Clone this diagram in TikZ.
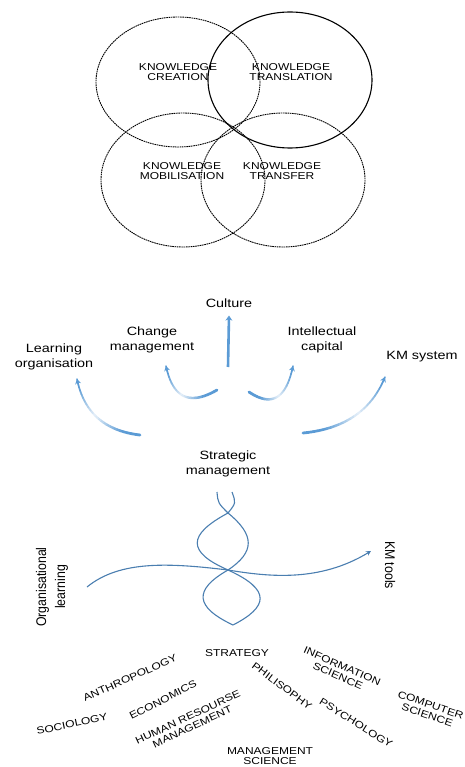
\documentclass[tikz,border=0pt]{standalone}
\usepackage{fontspec}
\setmainfont{Liberation Sans}
\newfontfamily\widefont[FakeStretch=1.2]{Liberation Sans}
\newfontfamily\narrowfont[FakeStretch=0.88]{Liberation Sans}
\usepackage{tikz}
\usetikzlibrary{arrows.meta,calc,positioning}
\definecolor{arrowblue}{RGB}{91,155,213}
\definecolor{helixblue}{RGB}{74,126,176}
\tikzset{
  kmtext/.style={font=\widefont\fontsize{10}{10.5}\selectfont, align=center, inner sep=0pt},
  mgmttext/.style={font=\widefont\fontsize{12}{15}\selectfont, align=center, inner sep=0pt},
  sidetext/.style={font=\narrowfont\fontsize{14}{19}\selectfont, align=center, inner sep=0pt},
  kring/.style={line width=0.9pt, dash pattern=on 1.6pt off 0.7pt},
  helix/.style={helixblue, line width=1.1pt},
}
% faded curved arrow: start, control, end
\newcommand{\fadearc}[3]{%
  \foreach \i in {0,...,23}{%
    \pgfmathsetmacro\tA{\i/24}%
    \pgfmathsetmacro\tB{(\i+1)/24}%
    \pgfmathsetmacro\fademix{min(100,15+abs((\tA+\tB)/2-0.55)*230)}%
    \pgfmathsetmacro\arcw{2.8-1.3*\tA}%
    \draw[arrowblue!\fademix!white, line width=\arcw pt, line cap=round]
      ($($(#1)!\tA!(#2)$)!\tA!($(#2)!\tA!(#3)$)$) --
      ($($(#1)!\tB!(#2)$)!\tB!($(#2)!\tB!(#3)$)$);
  }%
  \draw[arrowblue, line width=1.3pt, -{Stealth[length=5pt,width=6pt]}]
    ($($(#1)!0.93!(#2)$)!0.93!($(#2)!0.93!(#3)$)$) -- (#3);
}

\begin{document}
\begin{tikzpicture}[x=1pt,y=-1pt]
    \useasboundingbox (0,0) rectangle (464,767);

    \draw[kring] (178,82) ellipse [x radius=82, y radius=65];
    \draw[line width=1.1pt] (290,80) ellipse [x radius=82, y radius=68];
    \draw[kring] (183,180) ellipse [x radius=82, y radius=67];
    \draw[kring] (283,180) ellipse [x radius=82, y radius=67];
    \node[kmtext] (creation) at (178,72) {KNOWLEDGE\\CREATION};
    \node[kmtext] (translation) at (291,72) {KNOWLEDGE\\TRANSLATION};
    \node[kmtext] (mobilisation) at (182,171) {KNOWLEDGE\\MOBILISATION};
    \node[kmtext] (transfer) at (282,171) {KNOWLEDGE\\TRANSFER};

    \node[mgmttext] (culture) at (229,303) {Culture};
    \node[mgmttext] (change) at (152,340) {Change\\management};
    \node[mgmttext] (intel) at (322,340) {Intellectual\\capital};
    \node[mgmttext] (learnorg) at (54,357) {Learning\\organisation};
    \node[mgmttext] (kmsys) at (422,357) {KM system};
    \node[mgmttext] (strat) at (228,464) {Strategic\\management};

    \coordinate (cul-s) at (228,367);
    \draw[arrowblue, line width=2.6pt, -{Stealth[length=5pt,width=7pt]}] (cul-s) -- ([yshift=-8pt]culture.south);
    \coordinate (ch-s) at (217,390); \coordinate (ch-c) at (176,414); \coordinate (ch-e) at (166,366);
    \coordinate (in-s) at (249,392); \coordinate (in-c) at (283,415); \coordinate (in-e) at (293,366);
    \coordinate (lo-s) at (140,435); \coordinate (lo-c) at (87,429);  \coordinate (lo-e) at (77,379);
    \coordinate (ks-s) at (303,433); \coordinate (ks-c) at (365,427); \coordinate (ks-e) at (385,377);
    \fadearc{ch-s}{ch-c}{ch-e}
    \fadearc{in-s}{in-c}{in-e}
    \fadearc{lo-s}{lo-c}{lo-e}
    \fadearc{ks-s}{ks-c}{ks-e}

    \draw[helix] (217,492) .. controls (218,503) .. (228,513) .. controls (255,535) and (255,552) .. (228,570) .. controls (193,590) and (195,607) .. (233,625);
    \draw[helix] (232,492) .. controls (236,503) .. (228,513) .. controls (187,535) and (187,552) .. (228,570) .. controls (272,590) and (268,607) .. (233,625);
    \node[sidetext, rotate=90] (orglearn) at (52,587) {Organisational\\learning};
    \node[sidetext, rotate=-90] (kmtools) at (390,565) {KM tools};
    \coordinate (ol-s) at (87,587);
    \coordinate (kt-e) at (371,551);
    \draw[helix, -{Stealth[length=5pt,width=5pt]}] (ol-s) .. controls (120,560) and (170,563) .. (228,570) .. controls (270,577) and (320,582) .. (kt-e);

    \node[kmtext] (strategy) at (237,653) {STRATEGY};
    \node[kmtext, rotate=24] (anthro) at (130,678) {ANTHROPOLOGY};
    \node[kmtext, rotate=27] (econ) at (163,700) {ECONOMICS};
    \node[kmtext, rotate=12] (socio) at (72,724) {SOCIOLOGY};
    \node[kmtext, rotate=25] (hrm) at (190,722) {HUMAN RESOURSE\\MANAGEMENT};
    \node[kmtext, rotate=-37] (philo) at (282,686) {PHILISOPHY};
    \node[kmtext, rotate=-24] (infosci) at (340,671) {INFORMATION\\SCIENCE};
    \node[kmtext, rotate=-32] (psych) at (356,723) {PSYCHOLOGY};
    \node[kmtext, rotate=-19] (compsci) at (429,710) {COMPUTER\\SCIENCE};
    \node[kmtext] (mgmtsci) at (270,756) {MANAGEMENT\\SCIENCE};
\end{tikzpicture}
\end{document}
